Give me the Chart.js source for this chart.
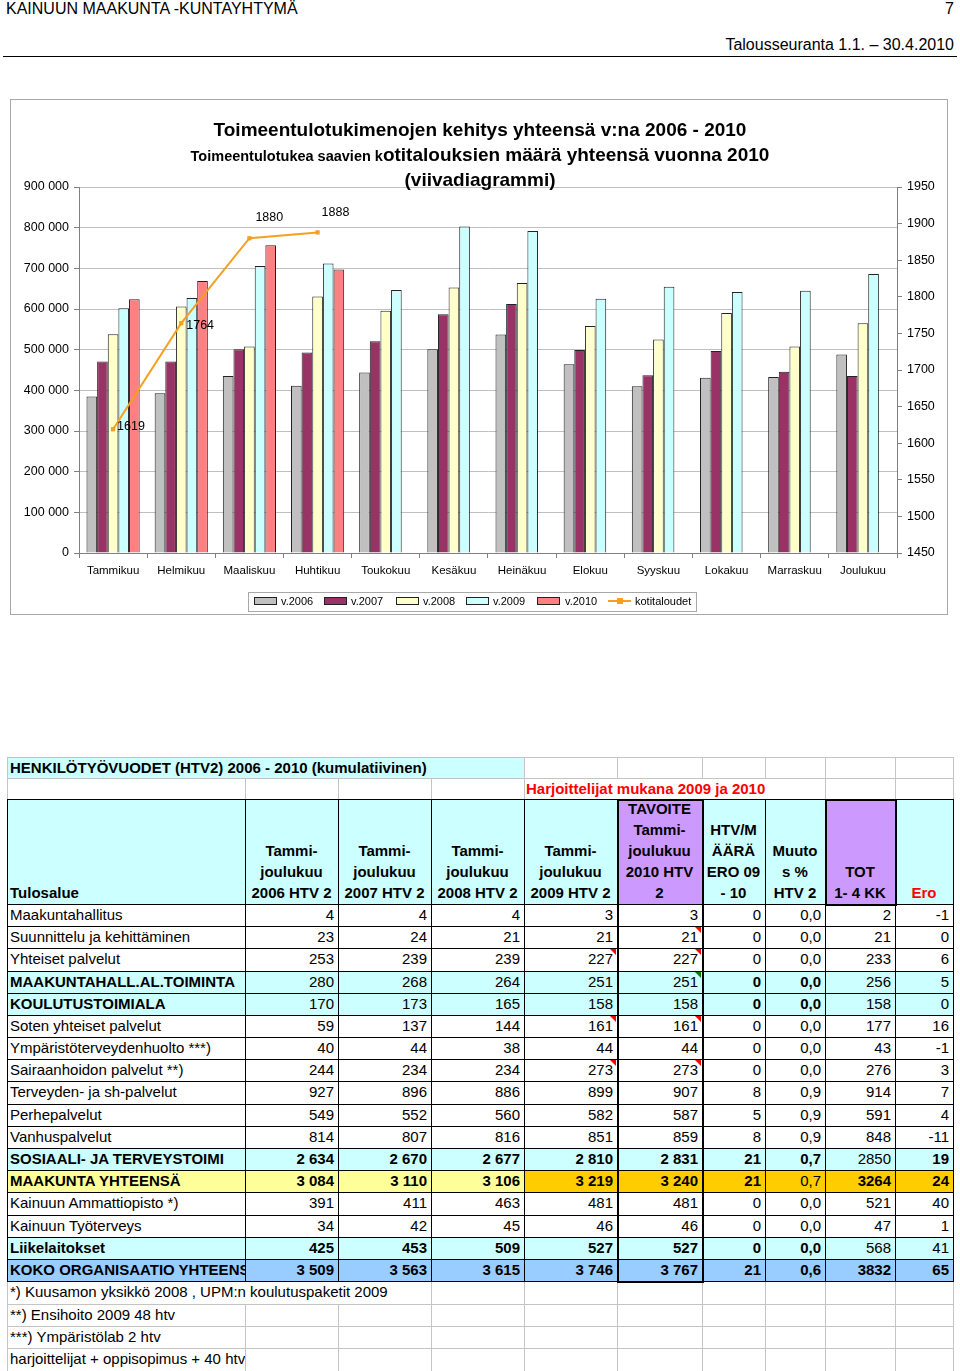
<!DOCTYPE html>
<html><head><meta charset="utf-8">
<script src="https://cdn.jsdelivr.net/npm/chart.js@4.4.1/dist/chart.umd.min.js"></script>
<style>
body{margin:0;background:#fff;font-family:"Liberation Sans",Arial,sans-serif;color:#000;}
#page{position:relative;width:960px;height:1371px;overflow:hidden;background:#fff;}
.abs{position:absolute;white-space:nowrap;}
.ttl{position:absolute;left:0;width:960px;text-align:center;font-weight:bold;font-size:19px;line-height:22px;white-space:nowrap;}
</style></head>
<body><div id="page">
<div class="abs" style="left:6px;top:0px;font-size:16px;line-height:18px;">KAINUUN MAAKUNTA -KUNTAYHTYMÄ</div>
<div class="abs" style="right:6px;top:0px;font-size:16px;line-height:18px;">7</div>
<div class="abs" style="right:6px;top:36px;font-size:16px;line-height:18px;">Talousseuranta 1.1. – 30.4.2010</div>
<div class="abs" style="left:3px;top:56px;width:954px;height:1px;background:#000;"></div>

<div class="abs" style="left:10px;top:99px;width:936px;height:514px;border:1px solid #a8a8a8;"></div>
<canvas id="c" width="938" height="516" style="position:absolute;left:10px;top:99px;width:938px;height:516px;"></canvas>
<div class="ttl" style="top:119px;">Toimeentulotukimenojen kehitys yhteensä v:na 2006 - 2010</div>
<div class="ttl" style="top:144px;"><span style="font-size:14.5px">Toimeentulotukea saavien k</span>otitalouksien määrä yhteensä vuonna 2010</div>
<div class="ttl" style="top:169px;">(viivadiagrammi)</div>

<div class="abs" style="left:248px;top:592px;width:447px;height:18px;border:1px solid #a8a8a8;"></div>
</div>
<script>
// ---- chart data ----
const months = ['Tammikuu','Helmikuu','Maaliskuu','Huhtikuu','Toukokuu','Kesäkuu','Heinäkuu','Elokuu','Syyskuu','Lokakuu','Marraskuu','Joulukuu'];
const v2006 = [385000,393000,435000,411000,444000,501000,537000,464000,410000,431000,433000,488000];
const v2007 = [471000,471000,501000,493000,521000,587000,612000,499000,437000,497000,446000,435000];
const v2008 = [538000,606000,508000,631000,596000,653000,664000,558000,525000,590000,508000,565000];
const v2009 = [602000,627000,706000,712000,647000,803000,792000,625000,655000,642000,645000,686000];
const v2010 = [624000,669000,757000,697000,null,null,null,null,null,null,null,null];
const kotitaloudet = [1619,1764,1880,1888,null,null,null,null,null,null,null,null];
const seriesNames = ['v.2006','v.2007','v.2008','v.2009','v.2010','kotitaloudet'];

// ---- table data ----
const tableTitle = 'HENKILÖTYÖVUODET (HTV2) 2006 - 2010 (kumulatiivinen)';
const tableNote = 'Harjoittelijat mukana 2009 ja 2010';
const colHeads = [['Tulosalue'],['Tammi-','joulukuu','2006 HTV 2'],['Tammi-','joulukuu','2007 HTV 2'],['Tammi-','joulukuu','2008 HTV 2'],['Tammi-','joulukuu','2009 HTV 2'],['TAVOITE','Tammi-','joulukuu','2010 HTV','2'],['HTV/M','ÄÄRÄ','ERO 09','- 10'],['Muuto','s %','HTV 2'],['TOT','1- 4 KK'],['Ero']];
const rowNames = ['Maakuntahallitus','Suunnittelu ja kehittäminen','Yhteiset palvelut','MAAKUNTAHALL.AL.TOIMINTA','KOULUTUSTOIMIALA','Soten yhteiset palvelut','Ympäristöterveydenhuolto ***)','Sairaanhoidon palvelut **)','Terveyden- ja sh-palvelut','Perhepalvelut','Vanhuspalvelut','SOSIAALI- JA TERVEYSTOIMI','MAAKUNTA YHTEENSÄ','Kainuun Ammattiopisto *)','Kainuun Työterveys','Liikelaitokset','KOKO ORGANISAATIO YHTEENSÄ'];
const htv2006 = [4,23,253,280,170,59,40,244,927,549,814,2634,3084,391,34,425,3509];
const htv2007 = [4,24,239,268,173,137,44,234,896,552,807,2670,3110,411,42,453,3563];
const htv2008 = [4,21,239,264,165,144,38,234,886,560,816,2677,3106,463,45,509,3615];
const htv2009 = [3,21,227,251,158,161,44,273,899,582,851,2810,3219,481,46,527,3746];
const tavoite2010 = [3,21,227,251,158,161,44,273,907,587,859,2831,3240,481,46,527,3767];
const eroHtv = [0,0,0,0,0,0,0,0,8,5,8,21,21,0,0,0,21];
const muutosPct = ['0,0','0,0','0,0','0,0','0,0','0,0','0,0','0,0','0,9','0,9','0,9','0,7','0,7','0,0','0,0','0,0','0,6'];
const tot14 = [2,21,233,256,158,177,43,276,914,591,848,2850,3264,521,47,568,3832];
const eroTot = [-1,0,6,5,0,16,-1,3,7,4,-11,19,24,40,1,41,65];
const footnotes = ['*) Kuusamon yksikkö 2008 , UPM:n koulutuspaketit 2009','**) Ensihoito 2009 48 htv','***) Ympäristölab 2 htv','harjoittelijat + oppisopimus + 40 htv'];

const FONT = '"Liberation Sans", Arial, sans-serif';
const spaced = v => String(v).replace(/\B(?=(\d{3})+(?!\d))/g, ' ');

// ---- chart ----
const lineLabels = {
  id: 'lineLabels',
  afterDatasetsDraw(chart) {
    const meta = chart.getDatasetMeta(5);
    const offs = [[4,-3],[5,2],[6,-21],[4,-20]];
    const ctx = chart.ctx;
    ctx.save();
    ctx.font = '12.5px ' + FONT;
    ctx.fillStyle = '#000';
    ctx.textAlign = 'left';
    ctx.textBaseline = 'middle';
    meta.data.forEach((pt, i) => {
      const v = kotitaloudet[i];
      if (v == null) return;
      const o = offs[i] || [4, -3];
      ctx.fillText(String(v), pt.x + o[0], pt.y + o[1]);
    });
    ctx.restore();
  }
};
const barColors = ['#c0c0c0','#993366','#ffffcc','#ccffff','#ff8080'];
const barData = [v2006, v2007, v2008, v2009, v2010];
const lineColor = '#f5a020';
const datasets = barData.map((d, i) => ({
  label: seriesNames[i], data: d, backgroundColor: barColors[i],
  borderColor: '#222', borderWidth: 1, borderSkipped: 'start', order: 1
}));
datasets.push({
  type: 'line', label: seriesNames[5], data: kotitaloudet, yAxisID: 'y1',
  borderColor: lineColor, backgroundColor: lineColor, borderWidth: 2,
  pointStyle: 'rect', pointRadius: 3, pointBorderWidth: 0, spanGaps: false, order: 0
});
new Chart(document.getElementById('c'), {
  type: 'bar',
  data: { labels: months, datasets },
  options: {
    responsive: false, animation: false, devicePixelRatio: 1,
    layout: { padding: { top: 88, left: 0, right: 0, bottom: 0 } },
    plugins: { legend: { display: false }, tooltip: { enabled: false } },
    datasets: { bar: { categoryPercentage: 0.78, barPercentage: 1 } },
    scales: {
      x: {
        offset: true,
        grid: { offset: true, drawOnChartArea: false, drawTicks: true, tickLength: 5, color: '#808080' },
        border: { color: '#808080' },
        ticks: { font: { size: 11.5, family: FONT }, color: '#000', padding: 6, maxRotation: 0, autoSkip: false },
        afterFit(s) { s.height = 62; }
      },
      y: {
        position: 'left', min: 0, max: 900000,
        ticks: { stepSize: 100000, callback: v => spaced(v), font: { size: 12.5, family: FONT }, color: '#000', padding: 5 },
        grid: { color: '#c0c0c0', tickLength: 5, tickColor: '#808080' },
        border: { color: '#808080' },
        afterFit(s) { s.width = 69; }
      },
      y1: {
        position: 'right', min: 1450, max: 1950,
        ticks: { stepSize: 50, callback: v => String(v), font: { size: 12.5, family: FONT }, color: '#000', padding: 5 },
        grid: { drawOnChartArea: false, tickLength: 5, color: '#808080' },
        border: { color: '#808080' },
        afterFit(s) { s.width = 51; }
      }
    }
  },
  plugins: [lineLabels]
});

// ---- html legend ----
const page = document.getElementById('page');
function box(x, y, w, h, css, txt) {
  const d = document.createElement('div');
  d.style.cssText = 'position:absolute;left:' + x + 'px;top:' + y + 'px;width:' + w + 'px;height:' + h + 'px;' + (css || '');
  if (txt != null) d.textContent = txt;
  page.appendChild(d);
  return d;
}
const lgSw = [254, 324, 396, 466, 537];
const lgTx = [281, 351, 423, 493, 565];
lgSw.forEach((x, i) => {
  box(x, 597, 21, 6, 'border:1px solid #222;background:' + barColors[i]);
  box(lgTx[i], 595, 60, 13, 'font-size:11px;line-height:13px;white-space:nowrap;', seriesNames[i]);
});
box(608, 600, 23, 2, 'background:' + lineColor);
box(617, 598, 6, 6, 'background:' + lineColor);
box(635, 595, 80, 13, 'font-size:11px;line-height:13px;white-space:nowrap;', seriesNames[5]);

// ---- table ----
const colX = [7,245,338,431,524,617,702,765,825,895,953];
const yA = 757, yB = 778, yH = 799, yD = 904, rowH = 22.18;
const yEnd = yD + rowH * rowNames.length;
const footH = 22.45;
const GRAY = '#c4c4c4', DARK = '#000';
function hline(x1, x2, y, c, w) { w = w || 1; box(x1, Math.round(y - (w - 1) / 2), x2 - x1 + w, w, 'background:' + c); }
function vline(x, y1, y2, c, w) { w = w || 1; box(Math.round(x - (w - 1) / 2), Math.round(y1), w, Math.round(y2) - Math.round(y1) + 1, 'background:' + c); }
function textCell(x1, x2, y1, y2, txt, css) {
  const h = y2 - y1;
  return box(x1, y1, x2 - x1, h, 'font-size:15px;line-height:' + h + 'px;white-space:nowrap;overflow:hidden;box-sizing:border-box;' + (css || ''), txt);
}
// top rows
box(colX[0], yA, colX[4] - colX[0], yB - yA, 'background:#ccffff');
textCell(colX[0], colX[4], yA, yB, tableTitle, 'padding-left:3px;font-weight:bold;');
textCell(colX[4], colX[8], yB, yH, tableNote, 'padding-left:2px;font-weight:bold;color:#ff0000;');
// header row
const purple = '#cc99ff';
for (let c = 0; c < 10; c++) {
  const bg = (c === 5 || c === 8) ? purple : '#ccffff';
  const d = box(colX[c], yH, colX[c + 1] - colX[c], yD - yH, 'background:' + bg + ';display:flex;flex-direction:column;justify-content:flex-end;font-weight:bold;font-size:15px;line-height:21px;padding-bottom:1px;box-sizing:border-box;' + (c === 0 ? 'text-align:left;padding-left:3px;' : 'text-align:center;') + (c === 9 ? 'color:#ff0000;' : ''));
  colHeads[c].forEach(t => { const s = document.createElement('div'); s.textContent = t; s.style.whiteSpace = 'nowrap'; d.appendChild(s); });
}
// data rows
const cyanRows = [3, 4, 11, 15];
const boldLabelRows = [3, 4, 11, 12, 15, 16];
const boldMask = {3:[0,0,0,0,0,1,1,0,0], 4:[0,0,0,0,0,1,1,0,0], 11:[1,1,1,1,1,1,1,0,1], 12:[1,1,1,1,1,1,0,1,1], 15:[1,1,1,1,1,1,1,0,0], 16:[1,1,1,1,1,1,1,1,1]};
const cols = [htv2006, htv2007, htv2008, htv2009, tavoite2010, eroHtv, muutosPct, tot14, eroTot];
rowNames.forEach((name, r) => {
  const y1 = yD + r * rowH, y2 = y1 + rowH;
  for (let c = 0; c < 10; c++) {
    let bg = null;
    if (cyanRows.includes(r)) bg = '#ccffff';
    if (r === 16) bg = '#99ccff';
    if (r === 12) bg = c <= 3 ? '#ffff99' : '#ffcc00';
    if (bg) box(colX[c], y1, colX[c + 1] - colX[c], rowH, 'background:' + bg);
  }
  textCell(colX[0], colX[1], y1, y2, name, 'padding-left:3px;' + (boldLabelRows.includes(r) ? 'font-weight:bold;' : ''));
  cols.forEach((arr, k) => {
    const v = arr[r];
    const txt = (k <= 4) ? spaced(v) : String(v);
    const bold = boldMask[r] && boldMask[r][k];
    textCell(colX[k + 1], colX[k + 2], y1, y2, txt, 'text-align:right;padding-right:4px;' + (bold ? 'font-weight:bold;' : ''));
  });
});
// footnotes
footnotes.forEach((t, i) => {
  const y1 = yEnd + i * footH;
  textCell(colX[0], i === 0 ? colX[3] : colX[1], y1, y1 + footH, t, 'padding-left:3px;');
});
// grid lines: top rows (gray)
hline(colX[0], colX[10], yA, GRAY);
hline(colX[0], colX[10], yB, GRAY);
[0, 4, 5, 6, 7, 8, 9, 10].forEach(c => vline(colX[c], yA, yB, GRAY));
[0, 1, 2, 3, 4, 8, 9, 10].forEach(c => vline(colX[c], yB, yH, GRAY));
// header + data (dark)
hline(colX[0], colX[10], yH, DARK);
hline(colX[0], colX[10], yD, DARK);
for (let r = 1; r <= rowNames.length; r++) hline(colX[0], colX[10], yD + r * rowH, DARK);
colX.forEach(x => vline(x, yH, yEnd, DARK));
// footnote grid (gray)
for (let i = 1; i <= footnotes.length; i++) hline(colX[0], colX[10], yEnd + i * footH, GRAY);
footnotes.forEach((t, i) => {
  const y1 = yEnd + i * footH;
  const cs = i === 0 ? [0, 3, 4, 5, 6, 7, 8, 9, 10] : [0, 1, 2, 3, 4, 5, 6, 7, 8, 9, 10];
  cs.forEach(c => vline(colX[c], y1 + 1, y1 + footH, GRAY));
});
// thick borders
vline(colX[5], yH, yEnd, DARK, 2); vline(colX[6], yH, yEnd, DARK, 2);
hline(colX[5], colX[6], yH, DARK, 2); hline(colX[5], colX[6], yEnd, DARK, 2);
vline(colX[8], yH, yD, DARK, 2); vline(colX[9], yH, yD, DARK, 2);
hline(colX[8], colX[9], yH, DARK, 2); hline(colX[8], colX[9], yD, DARK, 2);
// comment markers
function tri(x, y, col) { box(x - 6, y + 1, 0, 0, 'border-left:6px solid transparent;border-top:6px solid ' + col + ';'); }
[2, 5, 7].forEach(r => tri(colX[5] - 1, yD + r * rowH, '#ff0000'));
[1, 2, 5, 7].forEach(r => tri(colX[6] - 1, yD + r * rowH, '#ff0000'));
tri(colX[6] - 1, yD + 3 * rowH, '#008000');
</script>
</body></html>
